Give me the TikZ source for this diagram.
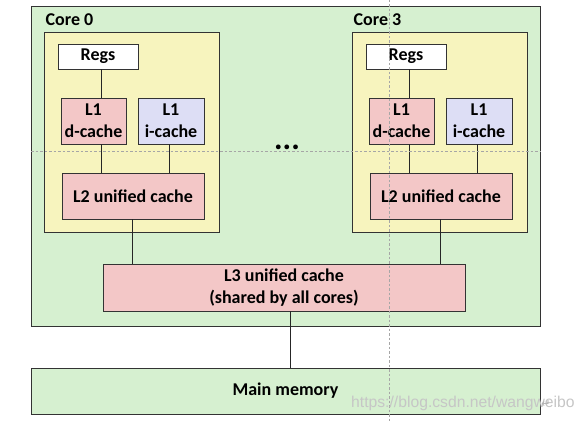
\documentclass[tikz,border=0pt]{standalone}
\usepackage{fontspec}
\setmainfont{Carlito}
\newfontfamily\wmfont{Liberation Sans}
\newfontfamily\symfont{DejaVu Sans}
\definecolor{cgreen}{RGB}{214,240,208}
\definecolor{cyellow}{RGB}{247,244,190}
\definecolor{cpink}{RGB}{243,199,199}
\definecolor{cblue}{RGB}{221,222,245}
\begin{document}
\begin{tikzpicture}[x=1pt,y=-1pt,
  box/.style={draw=black!80, line width=0.8pt, inner sep=0pt, align=center,
    font=\fontsize{18}{22}\selectfont\bfseries},
  lbl/.style={inner sep=0pt, font=\fontsize{18}{22}\selectfont\bfseries},
  wire/.style={draw=black!85, line width=0.8pt},
  guide/.style={draw=black!35, line width=0.6pt, dash pattern=on 2.5pt off 2pt}]
\useasboundingbox (0,0) rectangle (586,422);
\node[box, fill=cgreen, minimum width=509pt, minimum height=320pt] (chip) at (285.5,166) {};
\foreach \i/\dx in {0/0,3/308} {
  \node[lbl, anchor=west] (lab\i) at (45.5+\dx,20) {Core \i};
  \node[box, fill=cyellow, minimum width=175pt, minimum height=200pt] (core\i) at (131.5+\dx,132) {};
  \node[box, fill=white, minimum width=80pt, minimum height=25pt] (regs\i) at (98+\dx,56.5) {Regs};
  \node[box, fill=cpink, minimum width=65pt, minimum height=46pt] (l1d\i) at (93.5+\dx,121) {L1\\d-cache};
  \node[box, fill=cblue, minimum width=66pt, minimum height=46pt] (l1i\i) at (171+\dx,121) {L1\\i-cache};
  \node[box, fill=cpink, minimum width=142pt, minimum height=46pt] (l2\i) at (133+\dx,196) {L2 unified cache};
  \draw[wire] ([xshift=3pt]regs\i.south) -- ([xshift=3pt]regs\i.south |- l1d\i.north);
  \draw[wire] ([xshift=7.5pt]l1d\i.south) -- ([xshift=7.5pt]l1d\i.south |- l2\i.north);
  \draw[wire] ([xshift=-2pt]l1i\i.south) -- ([xshift=-2pt]l1i\i.south |- l2\i.north);
}
\node[box, fill=cpink, minimum width=362pt, minimum height=47pt] (l3) at (284,287.5) {L3 unified cache\\(shared by all cores)};
\foreach \i in {0,3} {
  \draw[wire] ([xshift=-1pt]l2\i.south) -- ([xshift=-1pt]l2\i.south |- l3.north);
}
\node[box, fill=cgreen, minimum width=509pt, minimum height=46pt] (mem) at (285.5,391) {Main memory};
\draw[wire] ([xshift=6pt]l3.south) -- ([xshift=6pt]l3.south |- mem.north);
\node[inner sep=0pt, anchor=base, font=\fontsize{32}{32}\selectfont\bfseries] (dots) at (287,149.5) {...};
\draw[guide] (31,151) -- (540,151);
\draw[guide] (389,0) -- (389,422);
\node[inner sep=0pt, anchor=west, text=gray!45, font=\wmfont\fontsize{15.7}{16}\selectfont] (wm) at (351,403) {https://blog.csdn.net/wangweibo};
\node[inner sep=0pt, text=gray!60, font=\symfont\fontsize{11}{11}\selectfont] (ret) at (546,404) {↵};
\end{tikzpicture}
\end{document}
